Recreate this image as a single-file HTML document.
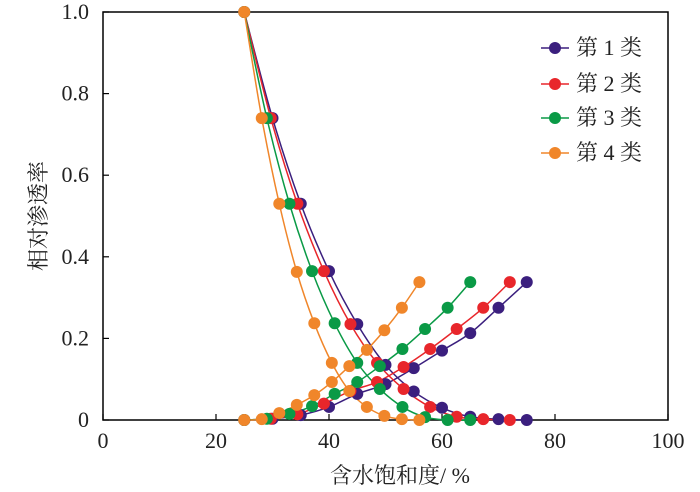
<!DOCTYPE html>
<html><head><meta charset="utf-8"><style>
html,body{margin:0;padding:0;background:#fff;}
svg{display:block;font-family:"Liberation Serif","Noto Serif CJK SC",serif;}
</style></head><body>
<svg id="chart" width="700" height="492" viewBox="0 0 700 492" xmlns="http://www.w3.org/2000/svg">
<g id="axes"></g><g id="series"></g><g id="legend"></g>
</svg>
<script>
const xTicks=[0,20,40,60,80,100];
const yTicks=[0,0.2,0.4,0.6,0.8,1.0];
const yTickLabels=["0","0.2","0.4","0.6","0.8","1.0"];
const seriesNames=["第 1 类","第 2 类","第 3 类","第 4 类"];
const seriesColors=["#3b1f7e","#e8262b","#0a9a46","#f0862a"];
const sw1=[25,30,35,40,45,50,55,60,65,70,75];
const kro1=[1,0.74,0.53,0.365,0.235,0.135,0.07,0.03,0.008,0.002,0];
const krw1=[0,0.003,0.012,0.032,0.064,0.088,0.127,0.17,0.213,0.275,0.338];
const sw2=[25,29.7,34.4,39.1,43.8,48.5,53.2,57.9,62.6,67.3,72];
const kro2=[1,0.74,0.53,0.365,0.235,0.14,0.076,0.032,0.008,0.002,0];
const krw2=[0,0.003,0.014,0.04,0.071,0.093,0.13,0.174,0.223,0.275,0.338];
const sw3=[25,29,33,37,41,45,49,53,57,61,65];
const kro3=[1,0.74,0.53,0.365,0.237,0.14,0.076,0.032,0.007,0,0];
const krw3=[0,0.003,0.015,0.034,0.064,0.093,0.132,0.174,0.223,0.275,0.338];
const sw4=[25,28.1,31.2,34.3,37.4,40.5,43.6,46.7,49.8,52.9,56];
const kro4=[1,0.74,0.53,0.363,0.237,0.14,0.071,0.032,0.01,0.002,0];
const krw4=[0,0.002,0.017,0.037,0.061,0.093,0.132,0.172,0.22,0.275,0.338];
const SW=[sw1,sw2,sw3,sw4], KRO=[kro1,kro2,kro3,kro4], KRW=[krw1,krw2,krw3,krw4];

const L=103,R=668,T=12,B=420;
const xs=v=>L+(v-0)/(100-0)*(R-L);
const ys=v=>B-(v-0)/(1-0)*(B-T);
const NS="http://www.w3.org/2000/svg";
function mk(tag,attrs,parent,text){const e=document.createElementNS(NS,tag);for(const k in attrs)e.setAttribute(k,attrs[k]);if(text!==undefined)e.textContent=text;parent.appendChild(e);return e;}
function smooth(p){
  let d='M'+p[0][0]+','+p[0][1];
  for(let i=0;i<p.length-1;i++){
    const p0=p[i-1]||p[i],p1=p[i],p2=p[i+1],p3=p[i+2]||p2;
    const c1x=p1[0]+(p2[0]-p0[0])/6,c1y=p1[1]+(p2[1]-p0[1])/6;
    const c2x=p2[0]-(p3[0]-p1[0])/6,c2y=p2[1]-(p3[1]-p1[1])/6;
    d+=' C'+c1x+','+c1y+' '+c2x+','+c2y+' '+p2[0]+','+p2[1];
  }
  return d;
}
const ax=document.getElementById('axes');
const frame=mk('rect',{x:L,y:T,width:R-L,height:B-T,fill:'none',stroke:'#000','stroke-width':1.5},ax);


xTicks.forEach(t=>{
  const l=mk('line',{x1:xs(t),x2:xs(t),y1:B,y2:B-6,stroke:'#000','stroke-width':1.2},ax);
  
  
  const tx=mk('text',{x:xs(t),y:B+28,'text-anchor':'middle','font-size':22,fill:'#222'},ax,String(t));
  
  
});
yTicks.forEach((t,i)=>{
  const l=mk('line',{x1:L,x2:L+6,y1:ys(t),y2:ys(t),stroke:'#000','stroke-width':1.2},ax);
  
  
  const tx=mk('text',{x:L-14,y:ys(t)+7,'text-anchor':'end','font-size':22,fill:'#222'},ax,yTickLabels[i]);
  
  
});
const xt=mk('text',{x:400,y:483,'text-anchor':'middle','font-size':22,fill:'#222'},ax,'含水饱和度/ %');


const yt=mk('text',{x:0,y:0,'text-anchor':'middle','font-size':22,fill:'#222',transform:'translate(46,216) rotate(-90)'},ax,'相对渗透率');



const sg=document.getElementById('series');
for(let s=0;s<4;s++){
  const c=seriesColors[s];
  [KRO[s],KRW[s]].forEach((arr,k)=>{
    const pts=SW[s].map((x,i)=>[xs(x),ys(arr[i])]);
    const pl=mk('path',{d:smooth(pts),fill:'none',stroke:c,'stroke-width':1.5},sg);
    
    
  });
}
for(let s=0;s<4;s++){
  const c=seriesColors[s];
  [KRO[s],KRW[s]].forEach((arr,k)=>{
    SW[s].forEach((x,i)=>{
      const p=mk('circle',{cx:xs(x),cy:ys(arr[i]),r:6,fill:c},sg);
      
      
    });
  });
}
const lg=document.getElementById('legend');
const ly=[48,84,118,153];
seriesNames.forEach((n,i)=>{
  const g=mk('g',{},lg);
  
  
  mk('line',{x1:541,x2:569,y1:ly[i],y2:ly[i],stroke:seriesColors[i],'stroke-width':1.5},g);
  mk('circle',{cx:555,cy:ly[i],r:6,fill:seriesColors[i]},g);
  mk('text',{x:576,y:ly[i]+7,'font-size':22,fill:'#222'},g,n);
});
</script>
</body></html>
